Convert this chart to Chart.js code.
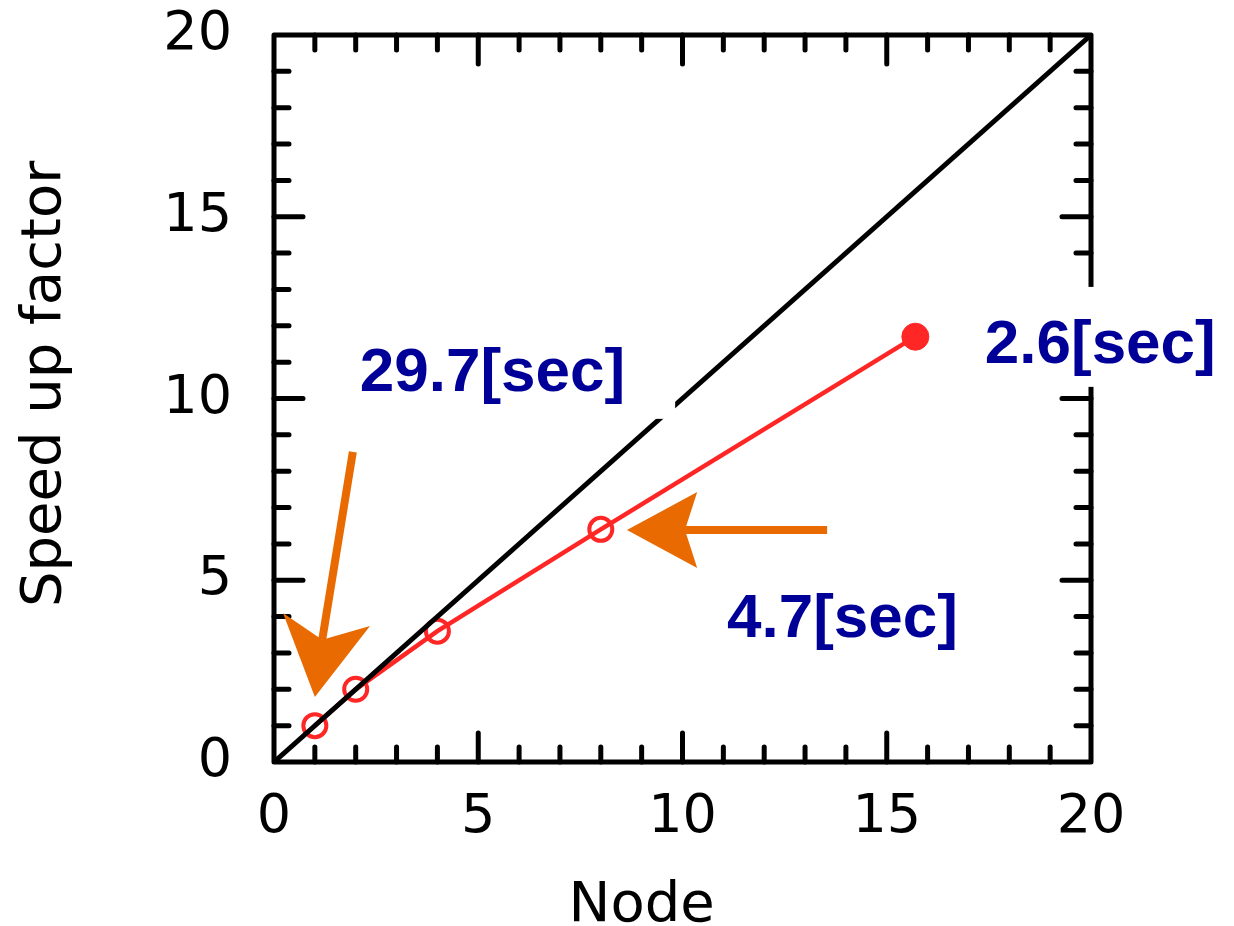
<!DOCTYPE html>
<html>
<head>
<meta charset="utf-8">
<title>Speed up factor</title>
<script src="https://cdn.jsdelivr.net/npm/chart.js@4.4.1/dist/chart.umd.min.js"></script>
<style>
  html, body { margin: 0; padding: 0; background: #fff; }
  #wrap { width: 1234px; height: 926px; position: relative; }
</style>
</head>
<body>
<div id="wrap"><canvas id="speedupChart"></canvas></div>
<script>
// Measured speed up vs. number of nodes
const nodes = [1, 2, 4, 8, 15.7];
const speedup = [1.0, 2.0, 3.6, 6.4, 11.7];

// Ideal (linear) scaling
const idealNodes = [0, 20];
const idealSpeedup = [0, 20];

// Elapsed time notes
const timeLabels = ['29.7[sec]', '4.7[sec]', '2.6[sec]'];

const AXIS_FONT = '"DejaVu Sans", "Liberation Sans", sans-serif';
const NOTE_FONT = 'bold 62px "Liberation Sans", Arial, sans-serif';
const NOTE_COLOR = '#000099';
const ARROW_COLOR = '#e86a00';

// Note boxes / text / arrows, all placed in data units
const notes = [
    { text: timeLabels[0], box: [1.54, 12.08, 9.82, 9.44], at: [2.1, 10.21] },
    { text: timeLabels[1], box: [10.6, 5.5, 18.83, 2.94], at: [11.09, 3.44] },
    { text: timeLabels[2], box: [16.8, 13.07, 23.5, 10.32], at: [17.4, 10.98] }
];
const arrows = [
    { from: [1.93, 8.53], tip: [1.0, 1.79], barbA: [0.22, 4.1], barbB: [2.35, 3.74], notch: [1.18, 3.36] },
    { from: [13.54, 6.38], tip: [8.64, 6.38], barbA: [10.36, 7.43], barbB: [10.36, 5.34], notch: [10.06, 6.38] }
];

// Frame with inward ticks on all four sides, axis titles, then the notes on top
const framePlugin = {
    id: 'frame',
    afterDraw(chart) {
        const ctx = chart.ctx;
        const xs = chart.scales.x, ys = chart.scales.y;
        const a = chart.chartArea;
        const X = v => xs.getPixelForValue(v);
        const Y = v => ys.getPixelForValue(v);

        ctx.save();
        ctx.strokeStyle = '#000';
        ctx.lineWidth = 5;
        ctx.lineCap = 'round';
        ctx.lineJoin = 'round';
        ctx.strokeRect(a.left, a.top, a.right - a.left, a.bottom - a.top);

        ctx.beginPath();
        for (let i = 1; i < 20; i++) {
            const len = i % 5 === 0 ? 29 : 15;
            const px = X(i), py = Y(i);
            ctx.moveTo(px, a.bottom); ctx.lineTo(px, a.bottom - len);
            ctx.moveTo(px, a.top); ctx.lineTo(px, a.top + len);
            ctx.moveTo(a.left, py); ctx.lineTo(a.left + len, py);
            ctx.moveTo(a.right, py); ctx.lineTo(a.right - len, py);
        }
        ctx.stroke();

        // axis titles
        ctx.fillStyle = '#000';
        ctx.font = '56px ' + AXIS_FONT;
        ctx.textAlign = 'center';
        ctx.textBaseline = 'alphabetic';
        ctx.fillText('Node', X(9.0), 921);
        ctx.save();
        ctx.translate(60, Y(10.4));
        ctx.rotate(-Math.PI / 2);
        ctx.fillText('Speed up factor', 0, 0);
        ctx.restore();

        // white boxes behind the timing notes
        ctx.fillStyle = '#fff';
        notes.forEach(n => {
            const x0 = X(n.box[0]), y0 = Y(n.box[1]);
            const x1 = X(n.box[2]), y1 = Y(n.box[3]);
            ctx.fillRect(x0, y0, x1 - x0, y1 - y0);
        });

        ctx.fillStyle = NOTE_COLOR;
        ctx.font = NOTE_FONT;
        ctx.textAlign = 'left';
        notes.forEach(n => ctx.fillText(n.text, X(n.at[0]), Y(n.at[1])));

        // orange arrows
        ctx.strokeStyle = ARROW_COLOR;
        ctx.fillStyle = ARROW_COLOR;
        ctx.lineCap = 'butt';
        ctx.lineWidth = 8;
        arrows.forEach(ar => {
            ctx.beginPath();
            ctx.moveTo(X(ar.from[0]), Y(ar.from[1]));
            ctx.lineTo(X(ar.notch[0]), Y(ar.notch[1]));
            ctx.stroke();
            ctx.beginPath();
            ctx.moveTo(X(ar.tip[0]), Y(ar.tip[1]));
            ctx.lineTo(X(ar.barbA[0]), Y(ar.barbA[1]));
            ctx.lineTo(X(ar.notch[0]), Y(ar.notch[1]));
            ctx.lineTo(X(ar.barbB[0]), Y(ar.barbB[1]));
            ctx.closePath();
            ctx.fill();
        });
        ctx.restore();
    }
};

const ctx = document.getElementById('speedupChart').getContext('2d');
new Chart(ctx, {
    type: 'line',
    data: {
        datasets: [
            {
                label: 'Ideal',
                data: idealNodes.map((n, i) => ({ x: n, y: idealSpeedup[i] })),
                borderColor: '#000',
                borderWidth: 5,
                pointRadius: 0,
                fill: false
            },
            {
                label: 'Measured',
                data: nodes.map((n, i) => ({ x: n, y: speedup[i] })),
                borderColor: '#ff2626',
                borderWidth: 4.5,
                pointRadius: [11.5, 11.5, 11.5, 11.5, 13.5],
                pointBorderWidth: [4, 4, 4, 4, 1],
                pointBorderColor: '#ff2626',
                pointBackgroundColor: ['rgba(0,0,0,0)', 'rgba(0,0,0,0)', 'rgba(0,0,0,0)', 'rgba(0,0,0,0)', '#ff2626'],
                fill: false
            }
        ]
    },
    options: {
        responsive: true,
        maintainAspectRatio: false,
        animation: false,
        layout: { padding: { left: 0, top: 35, right: 143, bottom: 0 } },
        plugins: { legend: { display: false }, tooltip: { enabled: false } },
        scales: {
            x: {
                type: 'linear',
                min: 0, max: 20,
                grid: { display: false, drawTicks: false },
                border: { display: false },
                ticks: { stepSize: 5, padding: 26, color: '#000', font: { family: AXIS_FONT, size: 54, lineHeight: 1.1 } },
                afterFit(scale) {
                    scale.height = 164;
                    scale.paddingLeft = 0;
                    scale.paddingRight = 0;
                }
            },
            y: {
                type: 'linear',
                min: 0, max: 20,
                grid: { display: false, drawTicks: false },
                border: { display: false },
                ticks: { stepSize: 5, padding: 42, color: '#000', font: { family: AXIS_FONT, size: 54, lineHeight: 1.1 } },
                afterFit(scale) {
                    scale.width = 274;
                    scale.paddingTop = 0;
                    scale.paddingBottom = 0;
                }
            }
        }
    },
    plugins: [framePlugin]
});
</script>
</body>
</html>
